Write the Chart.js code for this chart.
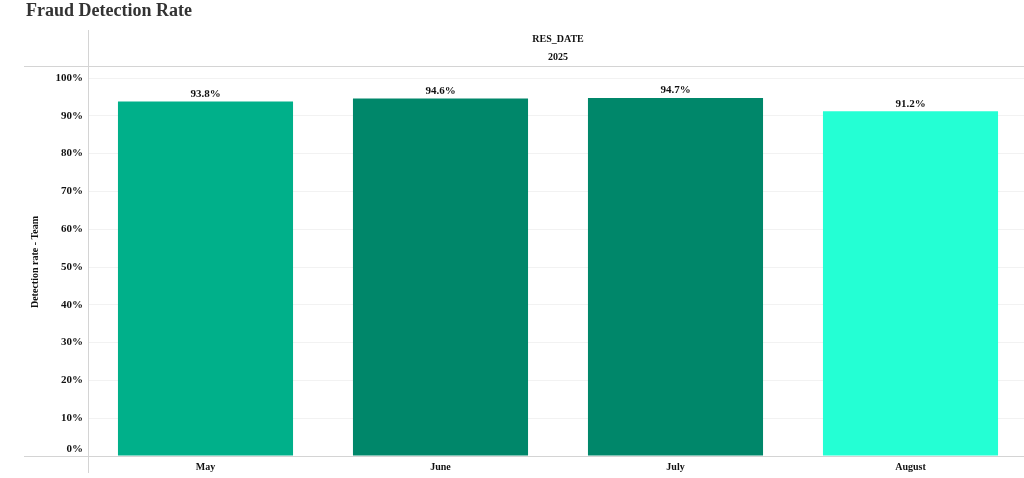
<!DOCTYPE html>
<html lang="en">
<head>
    <meta charset="UTF-8">
    <title>Fraud Detection Rate</title>
    <script src="https://cdn.jsdelivr.net/npm/chart.js"></script>
    <style>
        html, body {
            margin: 0;
            padding: 0;
            background: #fff;
            overflow: hidden;
        }
        .container {
            width: 1028px;
            height: 478px;
            position: relative;
        }
    </style>
</head>
<body>
    <div class="container">
        <canvas id="rateChart"></canvas>
    </div>

    <script>
        const months = ['May', 'June', 'July', 'August'];
        const detectionRates = [93.8, 94.6, 94.7, 91.2];
        const barColors = ['#00b08a', '#00876a', '#00876a', '#24ffd4'];
        const yTicks = [0, 10, 20, 30, 40, 50, 60, 70, 80, 90, 100];

        const serif = '"Liberation Serif", "Times New Roman", serif';

        // header, frame lines, axis title and value labels
        const decorations = {
            id: 'decorations',
            afterDatasetsDraw(chart) {
                const ctx = chart.ctx;
                const area = chart.chartArea;
                ctx.save();
                ctx.strokeStyle = '#d4d4d4';
                ctx.lineWidth = 1;
                ctx.beginPath();
                ctx.moveTo(24, 66.5);
                ctx.lineTo(1028, 66.5);
                ctx.moveTo(24, Math.round(area.bottom) + 0.5);
                ctx.lineTo(1028, Math.round(area.bottom) + 0.5);
                ctx.moveTo(88.5, 30);
                ctx.lineTo(88.5, 473);
                ctx.stroke();
                ctx.restore();
            },
            afterDraw(chart) {
                const ctx = chart.ctx;
                const area = chart.chartArea;
                ctx.save();
                ctx.fillStyle = '#333';
                ctx.font = 'bold 18px ' + serif;
                ctx.textAlign = 'left';
                ctx.textBaseline = 'middle';
                ctx.fillText('Fraud Detection Rate', 26, 11);

                ctx.fillStyle = '#111';
                ctx.font = 'bold 10px ' + serif;
                ctx.textAlign = 'center';
                const mid = (area.left + area.right) / 2;
                ctx.fillText('RES_DATE', mid, 39);
                ctx.fillText('2025', mid, 57);

                ctx.translate(35, (area.top + area.bottom) / 2 - 5);
                ctx.rotate(-Math.PI / 2);
                ctx.fillText('Detection rate - Team', 0, 0);
                ctx.restore();

                ctx.save();
                ctx.fillStyle = '#111';
                ctx.font = 'bold 11px ' + serif;
                ctx.textAlign = 'center';
                ctx.textBaseline = 'bottom';
                chart.getDatasetMeta(0).data.forEach((bar, i) => {
                    ctx.fillText(detectionRates[i].toFixed(1) + '%', bar.x, bar.y - 2);
                });
                ctx.restore();
            }
        };

        new Chart(document.getElementById('rateChart'), {
            type: 'bar',
            data: {
                labels: months,
                datasets: [{
                    data: detectionRates,
                    backgroundColor: barColors,
                    categoryPercentage: 1,
                    barPercentage: 0.745
                }]
            },
            options: {
                responsive: true,
                maintainAspectRatio: false,
                animation: false,
                layout: { padding: { top: 78, left: 0, right: 0, bottom: 0 } },
                plugins: {
                    legend: { display: false },
                    tooltip: { enabled: false }
                },
                scales: {
                    x: {
                        grid: { display: false, drawTicks: false },
                        border: { display: false },
                        ticks: {
                            padding: 5,
                            color: '#111',
                            font: { family: serif, size: 10, weight: 'bold' }
                        },
                        afterFit(scale) { scale.height = 22; }
                    },
                    y: {
                        min: 0,
                        max: 100,
                        afterBuildTicks(scale) {
                            scale.ticks = yTicks.map(v => ({ value: v }));
                        },
                        grid: { color: '#f2f2f2', drawTicks: false },
                        border: { display: false },
                        ticks: {
                            padding: 5,
                            color: '#111',
                            font: { family: serif, size: 11, weight: 'bold' },
                            // the 0% label sits just above the baseline
                            callback: v => v === 0 ? ['0%', ''] : v + '%'
                        },
                        afterFit(scale) { scale.width = 88; }
                    }
                }
            },
            plugins: [decorations]
        });
    </script>
</body>
</html>
